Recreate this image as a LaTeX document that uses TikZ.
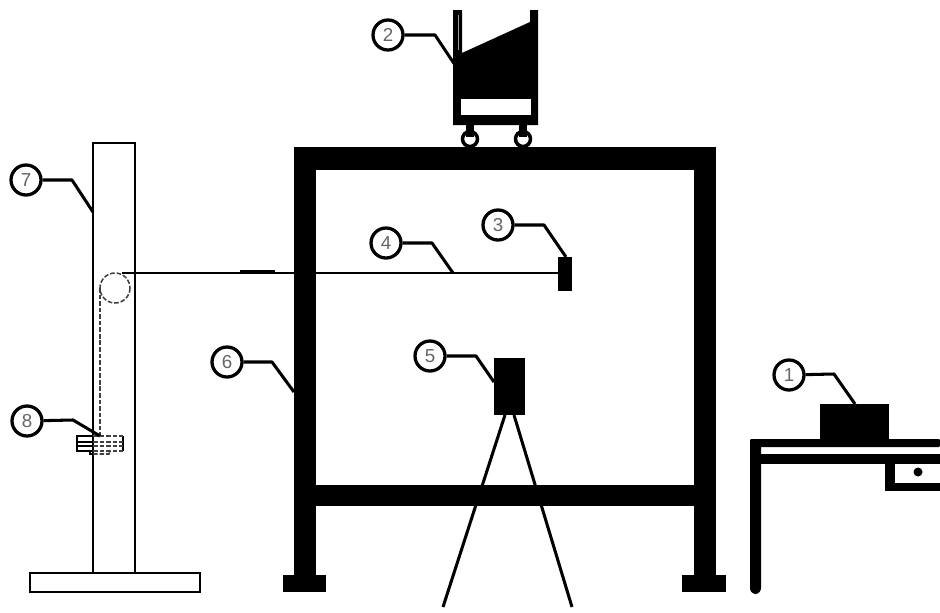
\documentclass[tikz,border=0pt]{standalone}
\usepackage{fontspec}
\setmainfont{Liberation Sans}
\usetikzlibrary{calc}

\tikzset{
    callnum/.style={circle,draw=black,fill=white,line width=2.8pt,minimum size=0.9cm,inner sep=0pt,font=\fontsize{16}{16}\selectfont,text=black!60},
    leader/.style={line width=2.6pt,line join=round},
    thinline/.style={line width=1.6pt},
    hidden/.style={line width=1.3pt,dash pattern=on 4pt off 1.6pt,draw=black!75},
}

\begin{document}
\begin{tikzpicture}[x=0.03cm,y=-0.03cm]
    \useasboundingbox (0,0) rectangle (940,613);

    % Draw the wheels of the cart
    \draw[line width=3pt] (470,139) circle (7.5);
    \draw[line width=3pt] (523,139) circle (7.5);
    \fill (466,124) rectangle (474,137);
    \fill (519,124) rectangle (527,137);

    % Draw the main frame
    \fill (294,147) rectangle (716,170);
    \fill (294,147) rectangle (316,576);
    \fill (694,147) rectangle (716,576);
    \fill (294,485) rectangle (716,506);
    \fill (283,575) rectangle (326,592);
    \fill (682,575) rectangle (726,592);

    % Draw the cart on top of the frame
    \fill (453,10) -- (462,10) -- (462,53) -- (530,22) -- (530,10) -- (538,10) -- (538,125) -- (453,125) -- cycle;
    \fill[white] (461,99) rectangle (531,115);
    \draw[black!40,line width=1.2pt] (458.5,15) -- (458.5,50);

    % Draw the table and the box on it
    \fill (820,404) rectangle (889,440);
    \fill[rounded corners=1] (750,439) rectangle (940,447);
    \fill (750,454) rectangle (940,464);
    \fill[rounded corners=5] (750,439) rectangle (761,594);
    \fill (755,444) rectangle (761,470);
    \fill (885,464) rectangle (895,491);
    \fill (885,483) rectangle (940,491);
    \fill (918,472) circle (4.5);

    % Draw the camera on its tripod
    \fill (494,358) rectangle (525,415);
    \draw[line width=2.6pt] (505,415) -- (443,607);
    \draw[line width=2.6pt] (514,415) -- (572,607);

    % Draw the column with its base
    \draw[thinline] (93,573) -- (93,143) -- (135,143) -- (135,573);
    \draw[thinline] (30,573) rectangle (200,592);

    % Draw the wire and the target
    \coordinate (T) at (558,273);
    \draw[line width=1.3pt] (122,273) -- (T);
    \draw[line width=2.6pt] (240,272) -- (275,272);
    \fill (558,257) rectangle (572,291);

    % Draw the hidden pulley and the weight
    \draw[hidden] (115,288) circle (15);
    \draw[hidden] (100,288) -- (100,436);
    \draw[line width=1.3pt] (93,436) -- (77,436) -- (77,451) -- (93,451);
    \draw[line width=1.3pt] (77,442) -- (93,442);
    \draw[line width=1.3pt] (77,446) -- (93,446);
    \draw[line width=1.3pt] (90,451) -- (90,454) -- (93,454);
    \draw[line width=1.3pt] (123,436) -- (123,451);
    \foreach \yy in {436,442,446,451}
        \draw[hidden] (93,\yy) -- (123,\yy);
    \draw[hidden] (93,454) -- (109,454) -- (110,451);

    % Place the numbered labels
    \node[callnum] (n1) at (789,375) {1};
    \node[callnum] (n2) at (388,35) {2};
    \node[callnum] (n3) at (498,225) {3};
    \node[callnum] (n4) at (386,243) {4};
    \node[callnum] (n5) at (430,356) {5};
    \node[callnum] (n6) at (227,362) {6};
    \node[callnum] (n7) at (26,180) {7};
    \node[callnum] (n8) at (27,421) {8};

    % Draw the leaders
    \draw[leader] (n1) -- (834,374) -- (855,404);
    \draw[leader] (n2) -- (435,35) -- (455,65);
    \draw[leader] (n3) -- (544,225) -- (566,257);
    \draw[leader] (n4) -- (432,243) -- (453,273);
    \draw[leader] (n5) -- (476,356) -- (494,382);
    \draw[leader] (n6) -- (272,362) -- (294,392);
    \draw[leader] (n7) -- (72,180) -- (93,212);
    \draw[leader] (n8) -- (73,420) -- (100,436);
\end{tikzpicture}
\end{document}
